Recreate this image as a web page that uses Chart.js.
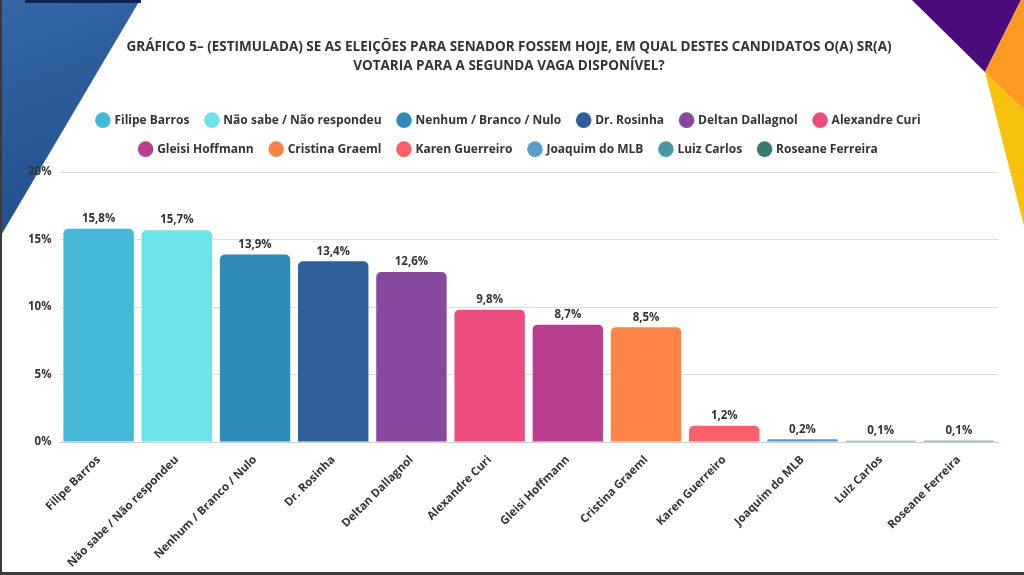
<!DOCTYPE html>
<html lang="pt-BR">
<head>
    <meta charset="UTF-8">
    <title>Gráfico 5 - Senador segunda vaga</title>
    <script src="https://cdn.jsdelivr.net/npm/chart.js"></script>
    <style>
        html, body { margin: 0; padding: 0; background: #fff; }
        #wrap { position: relative; width: 1024px; height: 575px; overflow: hidden; background: #fff; }
        .deco { position: absolute; }
        #photo { left: 0; top: 0; width: 142px; height: 240px;
                 background: linear-gradient(160deg, #3566a6 0%, #2a5a98 45%, #1f4c88 100%);
                 clip-path: polygon(0 0, 140px 0, 0 237px); }
        #photoTop { left: 25px; top: 0; width: 116px; height: 3px; background: #0e2552; }
        #purple { left: 0; top: 0; width: 1024px; height: 240px; background: #4a0c7c;
                  clip-path: polygon(912px 0, 1021px 0, 985px 72px); }
        #orange { left: 0; top: 0; width: 1024px; height: 240px; background: #fd9a22;
                  clip-path: polygon(1021px 0, 1024px 0, 1024px 110px, 985px 72px); }
        #yellow { left: 0; top: 0; width: 1024px; height: 240px; background: #f7c20e;
                  clip-path: polygon(985px 72px, 1024px 110px, 1024px 226px); }
        #borderL { left: 0; top: 0; width: 2px; height: 575px; background: #3a3a3a; }
        #borderB { left: 0; top: 572px; width: 1024px; height: 3px; background: #3a3a3a; }
        #chart { position: absolute; left: 0; top: 0; }
    </style>
</head>
<body>
<div id="wrap">
    <div class="deco" id="photo"></div>
    <div class="deco" id="photoTop"></div>
    <div class="deco" id="purple"></div>
    <div class="deco" id="orange"></div>
    <div class="deco" id="yellow"></div>
    <canvas id="chart" width="1024" height="575"></canvas>
    <div class="deco" id="borderL"></div>
    <div class="deco" id="borderB"></div>
</div>
<script>
    // dados
    var candidatos = ["Filipe Barros", "Não sabe / Não respondeu", "Nenhum / Branco / Nulo", "Dr. Rosinha",
        "Deltan Dallagnol", "Alexandre Curi", "Gleisi Hoffmann", "Cristina Graeml", "Karen Guerreiro",
        "Joaquim do MLB", "Luiz Carlos", "Roseane Ferreira"];
    var percentuais = [15.8, 15.7, 13.9, 13.4, 12.6, 9.8, 8.7, 8.5, 1.2, 0.2, 0.1, 0.1];
    var cores = ["#44b8d7", "#6ce3e8", "#2e8bba", "#2e5f99", "#87479b", "#ec4d7e", "#b93f8e", "#fe8346",
        "#fb5f69", "#5b9bc9", "#4a96a6", "#3a7a70"];
    var tituloLinhas = ["GRÁFICO 5– (ESTIMULADA) SE AS ELEIÇÕES PARA SENADOR FOSSEM HOJE, EM QUAL DESTES CANDIDATOS O(A) SR(A)",
        "VOTARIA PARA A SEGUNDA VAGA DISPONÍVEL?"];
    var yTicks = [0, 5, 10, 15, 20];

    var textColor = "#333333";
    var fontFamily = "'Open Sans', sans-serif";

    function fmt(v) {
        return v.toFixed(1).replace(".", ",") + "%";
    }

    // rótulos de valor acima das barras
    var valueLabels = {
        id: "valueLabels",
        afterDatasetsDraw: function(chart) {
            var ctx = chart.ctx;
            var meta = chart.getDatasetMeta(0);
            ctx.save();
            ctx.font = "bold 11.5px " + fontFamily;
            ctx.fillStyle = textColor;
            ctx.textAlign = "center";
            ctx.textBaseline = "middle";
            meta.data.forEach(function(bar, i) {
                ctx.fillText(fmt(percentuais[i]), bar.x, bar.y - 10);
            });
            ctx.restore();
        }
    };

    // um pouco mais de espaço entre a legenda e o gráfico
    var legendGap = {
        id: "legendGap",
        beforeInit: function(chart) {
            var origFit = chart.legend.fit;
            chart.legend.fit = function() {
                origFit.call(this);
                this.height += 7;
            };
        }
    };

    var ctx = document.getElementById("chart").getContext("2d");
    var chart = new Chart(ctx, {
        type: "bar",
        data: {
            labels: candidatos,
            datasets: [{
                data: percentuais,
                backgroundColor: cores,
                borderRadius: { topLeft: 5, topRight: 5 },
                borderSkipped: "bottom",
                barPercentage: 0.9,
                categoryPercentage: 1.0
            }]
        },
        options: {
            responsive: false,
            animation: false,
            layout: { padding: { left: 20, right: 26, top: 0, bottom: 2 } },
            plugins: {
                title: {
                    display: true,
                    text: tituloLinhas,
                    color: textColor,
                    font: { family: fontFamily, size: 13.5, weight: "bold", lineHeight: 1.45 },
                    padding: { top: 37, bottom: 21 }
                },
                legend: {
                    display: true,
                    position: "top",
                    labels: {
                        usePointStyle: true,
                        pointStyle: "circle",
                        boxWidth: 11,
                        boxHeight: 11,
                        padding: 17,
                        color: textColor,
                        font: { family: fontFamily, size: 12, weight: "bold" },
                        generateLabels: function(chart) {
                            return candidatos.map(function(c, i) {
                                return {
                                    text: c,
                                    fillStyle: cores[i],
                                    strokeStyle: cores[i],
                                    lineWidth: 0,
                                    pointStyle: "circle",
                                    fontColor: textColor,
                                    index: i
                                };
                            });
                        }
                    }
                },
                tooltip: { enabled: false }
            },
            scales: {
                x: {
                    grid: { display: false },
                    border: { color: "#cccccc" },
                    ticks: {
                        autoSkip: false,
                        minRotation: 45,
                        maxRotation: 45,
                        color: textColor,
                        font: { family: fontFamily, size: 11.5, weight: "bold" }
                    }
                },
                y: {
                    min: 0,
                    max: 20,
                    afterBuildTicks: function(axis) {
                        axis.ticks = yTicks.map(function(v) { return { value: v }; });
                    },
                    grid: { color: "#dddddd", drawTicks: false },
                    border: { display: false },
                    ticks: {
                        padding: 8,
                        color: textColor,
                        font: { family: fontFamily, size: 11.5, weight: "bold" },
                        callback: function(v) { return v + "%"; }
                    }
                }
            }
        },
        plugins: [valueLabels, legendGap]
    });
</script>
</body>
</html>
